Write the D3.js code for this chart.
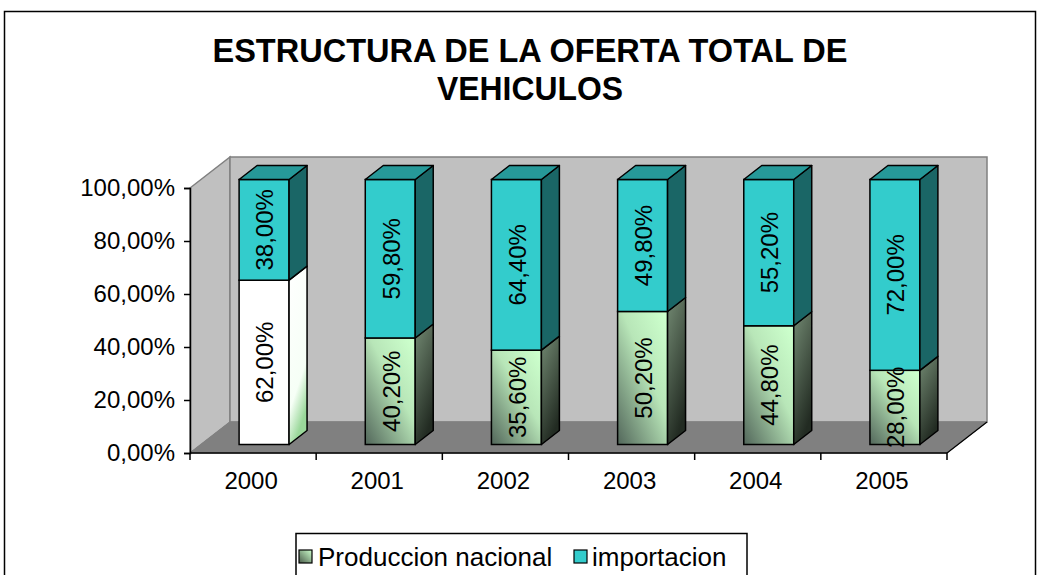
<!DOCTYPE html>
<html>
<head>
	<title>Estructura de la oferta total de vehiculos</title>
	<script src="https://d3js.org/d3.v7.min.js"></script>
	<style type="text/css">
		body { margin:0; background:#fff; }
		svg { display:block; }
		text { font-family: Arial, "Liberation Sans", sans-serif; fill:#000; }
	</style>
</head>
<body>
<script type="text/javascript">

// data
var years = ["2000", "2001", "2002", "2003", "2004", "2005"];
var produccion = [62.0, 40.2, 35.6, 50.2, 44.8, 28.0];
var importacion = [38.0, 59.8, 64.4, 49.8, 55.2, 72.0];
var yTicks = [0, 20, 40, 60, 80, 100];
var seriesNames = ["Produccion nacional", "importacion"];
var titleLines = ["ESTRUCTURA DE LA OFERTA TOTAL DE", "VEHICULOS"];

var W = 1039, H = 575;

var svg = d3.select("body").append("svg")
	.attr("width", W)
	.attr("height", H);

// gradients
var defs = svg.append("defs");
function grad(id, x1, y1, x2, y2, stops){
	var g = defs.append("linearGradient").attr("id", id)
		.attr("x1", x1).attr("y1", y1).attr("x2", x2).attr("y2", y2);
	stops.forEach(function(s){
		g.append("stop").attr("offset", s[0]).attr("stop-color", s[1]);
	});
}
grad("gFront", 0.9, 0, 0, 1, [[0, "#ccffcc"], [0.4, "#b8e6b8"], [1, "#52665a"]]);
grad("gSide", 0, 0, 0.4, 1, [[0, "#738a73"], [1, "#222b22"]]);
grad("gWhiteSide", 0, 0, 0.3, 1, [[0, "#ffffff"], [0.75, "#f6fff6"], [1, "#9ad89a"]]);
grad("gLegend", 1, 0, 0, 1, [[0, "#ccffcc"], [1, "#4a5c4a"]]);

// outer frame
svg.append("rect")
	.attr("x", 4.5).attr("y", 11.5)
	.attr("width", 1031).attr("height", 620)
	.attr("fill", "#fff")
	.attr("stroke", "#000")
	.attr("stroke-width", 1.5);

// title (slightly condensed, like the original)
var titleWidths = [635, 186];
svg.selectAll("text.title")
	.data(titleLines)
	.enter().append("text")
	.attr("class", "title")
	.attr("x", 530)
	.attr("y", function(d, i){ return 62 + i * 38; })
	.attr("text-anchor", "middle")
	.attr("font-size", "34px")
	.attr("font-weight", "bold")
	.attr("textLength", function(d, i){ return titleWidths[i]; })
	.attr("lengthAdjust", "spacingAndGlyphs")
	.text(function(d){ return d; });

// scales
var x = d3.scaleBand()
	.domain(years)
	.range([190, 947])
	.paddingInner(0.604)
	.paddingOuter(0.302);

var y = d3.scaleLinear()
	.domain([0, 100])
	.range([453, 188]);

// 3d depth of the plot box and of the bars
var depth = {dx: 40, dy: -31};
var barDepth = {dx: 18, dy: -14};
var front = {dx: (depth.dx - barDepth.dx) / 2, dy: (depth.dy - barDepth.dy) / 2};

var x0 = x.range()[0], x1 = x.range()[1];
var yTop = y(100), yBot = y(0);

function pts(a){ return a.map(function(p){ return p.join(","); }).join(" "); }

// walls + floor
svg.append("polygon")
	.attr("points", pts([[x0, yTop], [x0 + depth.dx, yTop + depth.dy], [x0 + depth.dx, yBot + depth.dy], [x0, yBot]]))
	.attr("fill", "#c0c0c0").attr("stroke", "#808080").attr("stroke-width", 1.5);
svg.append("rect")
	.attr("x", x0 + depth.dx).attr("y", yTop + depth.dy)
	.attr("width", x1 - x0).attr("height", yBot - yTop)
	.attr("fill", "#c0c0c0").attr("stroke", "#808080").attr("stroke-width", 1.5);
svg.append("polygon")
	.attr("points", pts([[x0, yBot], [x1, yBot], [x1 + depth.dx, yBot + depth.dy], [x0 + depth.dx, yBot + depth.dy]]))
	.attr("fill", "#808080").attr("stroke", "#808080").attr("stroke-width", 1);
svg.append("line")
	.attr("x1", x1).attr("y1", yBot)
	.attr("x2", x1 + depth.dx).attr("y2", yBot + depth.dy)
	.attr("stroke", "#000").attr("stroke-width", 1.2);

// y axis
var yAxis = d3.axisLeft(y)
	.tickValues(yTicks)
	.tickSize(6)
	.tickPadding(9)
	.tickFormat(function(d){ return d3.format(".2f")(d).replace(".", ",") + "%"; });
var gy = svg.append("g")
	.attr("transform", "translate(" + x0 + ",0)")
	.call(yAxis);
gy.select(".domain").attr("stroke", "#000").attr("stroke-width", 1.5);
gy.selectAll(".tick line").attr("stroke", "#000").attr("stroke-width", 1.5);
gy.selectAll(".tick text")
	.attr("font-size", "24px")
	.attr("font-family", "Arial, 'Liberation Sans', sans-serif")
	.attr("fill", "#000");

// x axis: line, ticks at category boundaries, labels centred
svg.append("line")
	.attr("x1", x0).attr("y1", yBot).attr("x2", x1).attr("y2", yBot)
	.attr("stroke", "#000").attr("stroke-width", 1.5);
var step = x.step();
var bounds = years.map(function(d){ return x(d) - (step - x.bandwidth()) / 2; }).concat([x1]);
svg.selectAll("line.xtick")
	.data(bounds)
	.enter().append("line")
	.attr("class", "xtick")
	.attr("x1", function(d){ return d; }).attr("x2", function(d){ return d; })
	.attr("y1", yBot).attr("y2", yBot + 7)
	.attr("stroke", "#000").attr("stroke-width", 1.5);
svg.selectAll("text.xlab")
	.data(years)
	.enter().append("text")
	.attr("class", "xlab")
	.attr("x", function(d){ return x(d) + x.bandwidth() / 2 - 2; })
	.attr("y", 489)
	.attr("text-anchor", "middle")
	.attr("font-size", "24px")
	.text(function(d){ return d; });

// bars
function fmt(v){ return d3.format(".2f")(v).replace(".", ",") + "%"; }

function drawSegment(g, bx, v0, v1, faces, showTop){
	var w = x.bandwidth();
	var fx = bx + front.dx;
	var fy0 = y(v0) + front.dy, fy1 = y(v1) + front.dy;
	var bd = barDepth;
	// front
	g.append("rect")
		.attr("x", fx).attr("y", fy1)
		.attr("width", w).attr("height", fy0 - fy1)
		.attr("fill", faces.front).attr("stroke", "#000").attr("stroke-width", 1.5);
	// side
	g.append("polygon")
		.attr("points", pts([[fx + w, fy1], [fx + w + bd.dx, fy1 + bd.dy], [fx + w + bd.dx, fy0 + bd.dy], [fx + w, fy0]]))
		.attr("fill", faces.side).attr("stroke", "#000").attr("stroke-width", 1.5).attr("stroke-linejoin", "round");
	// top
	if(showTop){
		g.append("polygon")
			.attr("points", pts([[fx, fy1], [fx + bd.dx, fy1 + bd.dy], [fx + w + bd.dx, fy1 + bd.dy], [fx + w, fy1]]))
			.attr("fill", faces.top).attr("stroke", "#000").attr("stroke-width", 1.5).attr("stroke-linejoin", "round");
	}
	return {cx: fx + w / 2, cy: (fy0 + fy1) / 2};
}

var labels = [];
years.forEach(function(yr, i){
	var g = svg.append("g").attr("class", "bar");
	var bx = x(yr);
	var p = produccion[i], m = importacion[i];
	var prodFaces = i === 0
		? {front: "#ffffff", side: "url(#gWhiteSide)", top: "#ffffff"}
		: {front: "url(#gFront)", side: "url(#gSide)", top: "#99cc99"};
	var c1 = drawSegment(g, bx, 0, p, prodFaces, false);
	var c2 = drawSegment(g, bx, p, p + m, {front: "#33cccc", side: "#1a6666", top: "#269999"}, true);
	labels.push({x: c1.cx, y: c1.cy, t: fmt(p)});
	labels.push({x: c2.cx, y: c2.cy, t: fmt(m)});
});

svg.selectAll("text.val")
	.data(labels)
	.enter().append("text")
	.attr("class", "val")
	.attr("transform", function(d){ return "translate(" + (d.x + 1) + "," + d.y + ") rotate(-90)"; })
	.attr("text-anchor", "middle")
	.attr("dy", "0.35em")
	.attr("font-size", "24px")
	.text(function(d){ return d.t; });

// legend
var lg = svg.append("g");
lg.append("rect")
	.attr("x", 296).attr("y", 533.5)
	.attr("width", 451).attr("height", 60)
	.attr("fill", "#fff").attr("stroke", "#000").attr("stroke-width", 1.5);
var legendItems = [
	{name: seriesNames[0], fill: "url(#gLegend)", sx: 299, tx: 318},
	{name: seriesNames[1], fill: "#33cccc", sx: 574, tx: 592}
];
legendItems.forEach(function(d){
	lg.append("rect")
		.attr("x", d.sx).attr("y", 550)
		.attr("width", 13).attr("height", 13)
		.attr("fill", d.fill).attr("stroke", "#000").attr("stroke-width", 1.2);
	lg.append("text")
		.attr("x", d.tx).attr("y", 566)
		.attr("font-size", "26px")
		.text(d.name);
});

</script>
</body>
</html>
